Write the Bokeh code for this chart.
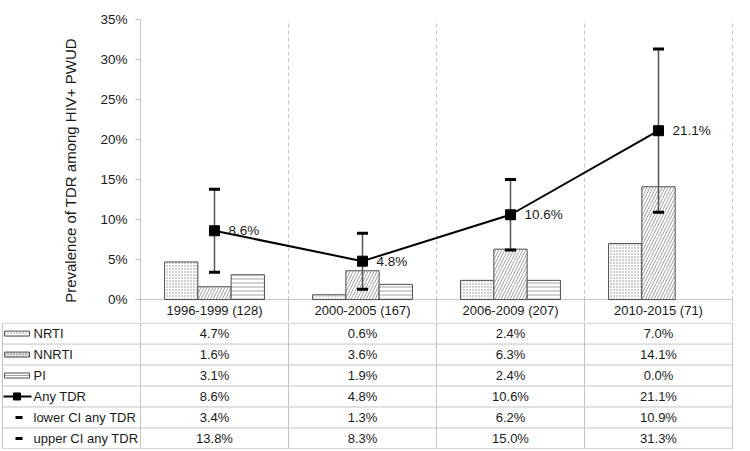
import numpy as np
from bokeh.plotting import figure
from bokeh.models import Range1d, FixedTicker, PrintfTickFormatter
from bokeh.core.properties import value
from bokeh.embed import file_html
from bokeh.resources import INLINE

# ---------------- data ----------------
categories = ["1996-1999 (128)", "2000-2005 (167)", "2006-2009 (207)", "2010-2015 (71)"]
nrti = [4.7, 0.6, 2.4, 7.0]
nnrti = [1.6, 3.6, 6.3, 14.1]
pi = [3.1, 1.9, 2.4, 0.0]
any_tdr = [8.6, 4.8, 10.6, 21.1]
lower_ci = [3.4, 1.3, 6.2, 10.9]
upper_ci = [13.8, 8.3, 15.0, 31.3]
row_names = ["NRTI", "NNRTI", "PI", "Any TDR", "lower CI any TDR", "upper CI any TDR"]
y_ticks = [0, 5, 10, 15, 20, 25, 30, 35]
y_max = 35

FONT = "Liberation Sans"
TXT = "#1a1a1a"
GRID = "#c4c4c4"
OUTL = "#505050"
HATCH = "#8c8c8c"

n = len(categories)
xc = np.arange(n) + 0.5
unit = 1.0 / 148.0           # one pixel in category units
bw = 0.225
x_end = n + 2 * unit
W = 745
LEFT = 140
RIGHT = W - LEFT - 594

# vertical scale: 281 px for 0..35 %, header row of 22 px below the zero line
ppu = 281.0 / y_max
hdr = 22.0 / ppu
y_min = -hdr

# ---------------- chart + header row ----------------
p = figure(width=W, height=322, x_range=Range1d(0, x_end), y_range=Range1d(y_min, y_max),
           output_backend="svg", toolbar_location=None,
           min_border_left=LEFT, min_border_right=RIGHT, min_border_top=19, min_border_bottom=1)
p.outline_line_color = None
p.xaxis.visible = False
p.ygrid.visible = False
p.xgrid.ticker = FixedTicker(ticks=list(range(1, n + 1)))
p.xgrid.bounds = (0, y_max)
p.xgrid.grid_line_color = GRID
p.xgrid.grid_line_dash = "4 3"
p.xgrid.grid_line_width = 1

ya = p.yaxis[0]
ya.ticker = FixedTicker(ticks=y_ticks)
ya.formatter = PrintfTickFormatter(format="%d%%")
ya.axis_label = "Prevalence of TDR among HIV+ PWUD"
ya.axis_label_text_font = FONT
ya.axis_label_text_font_style = "normal"
ya.axis_label_text_font_size = "15px"
ya.axis_label_text_color = TXT
ya.axis_label_standoff = 18
ya.major_label_text_font = FONT
ya.major_label_text_font_size = "13.5px"
ya.major_label_text_color = TXT
ya.major_label_standoff = 8
ya.axis_line_color = GRID
ya.major_tick_line_color = GRID
ya.major_tick_out = 5
ya.major_tick_in = 0
ya.minor_tick_line_color = None

# zero line and header row rules
p.segment(x0=[0], y0=[0], x1=[n], y1=[0], line_color=GRID, line_width=1)
p.segment(x0=list(range(n + 1)), y0=[y_min] * (n + 1), x1=list(range(n + 1)), y1=[0] * (n + 1),
          line_color=GRID, line_width=1)
p.text(x=xc, y=[-hdr / 2] * n, text=categories, text_align="center", text_baseline="middle",
       text_font=value(FONT), text_font_size="13px", text_color=TXT)

bar_specs = [(nrti, -bw, ".", 3), (nnrti, 0.0, "/", 6), (pi, bw, "-", 4)]
for vals, off, hp, hs in bar_specs:
    p.vbar(x=xc + off, top=vals, bottom=0, width=bw, fill_color="white",
           line_color=OUTL, line_width=1, line_alpha=[0.0 if v == 0 else 1.0 for v in vals],
           hatch_pattern=hp, hatch_color=HATCH, hatch_scale=hs, hatch_weight=0.8)

p.segment(x0=xc, y0=lower_ci, x1=xc, y1=upper_ci, line_color="#555555", line_width=1.5)
p.scatter(x=xc, y=lower_ci, marker="dash", size=11, line_width=3, line_color="black")
p.scatter(x=xc, y=upper_ci, marker="dash", size=11, line_width=3, line_color="black")
p.line(x=xc, y=any_tdr, line_color="black", line_width=2)
p.scatter(x=xc, y=any_tdr, marker="square", size=10, fill_color="black", line_color="black")
p.text(x=xc, y=any_tdr, text=[f"{v:.1f}%" for v in any_tdr], x_offset=14,
       text_baseline="middle", text_align="left", text_font=value(FONT),
       text_font_size="13.5px", text_color=TXT)

# ---------------- data table body ----------------
x_start = -LEFT * unit
nrows = 6
e = 0.03
t = figure(width=W, height=127, x_range=Range1d(x_start, x_end), y_range=Range1d(nrows + e, -e),
           output_backend="svg", toolbar_location=None, x_axis_type=None, y_axis_type=None,
           min_border_left=0, min_border_right=RIGHT, min_border_top=0, min_border_bottom=0)
t.outline_line_color = None
t.grid.visible = False

left = x_start + 2 * unit
# horizontal rules
t.segment(x0=[left] * (nrows + 1), y0=list(range(0, nrows + 1)), x1=[n] * (nrows + 1),
          y1=list(range(0, nrows + 1)), line_color=GRID, line_width=1)
# vertical rules
t.segment(x0=[left] + list(range(n + 1)), y0=[0] * (n + 2),
          x1=[left] + list(range(n + 1)), y1=[nrows] * (n + 2),
          line_color=GRID, line_width=1)

# values
series = [nrti, nnrti, pi, any_tdr, lower_ci, upper_ci]
for r, vals in enumerate(series):
    t.text(x=xc, y=[r + 0.5] * n, text=[f"{v:.1f}%" for v in vals], text_align="center",
           text_baseline="middle", text_font=value(FONT), text_font_size="13px", text_color=TXT)

# row labels
label_x = [x_start + 33 * unit] * len(row_names)
t.text(x=label_x, y=[r + 0.5 for r in range(len(row_names))], text=row_names,
       text_align="left", text_baseline="middle", text_font=value(FONT),
       text_font_size="13px", text_color=TXT)

# legend keys
key_cx = x_start + 16.5 * unit
for r, (_, _, hp, hs) in enumerate(bar_specs):
    t.rect(x=[key_cx], y=[r + 0.5], width=25, height=5, width_units="screen", height_units="screen",
           fill_color="white", line_color=OUTL, line_width=1, hatch_pattern=hp,
           hatch_color=HATCH, hatch_scale=3, hatch_weight=0.8)
t.segment(x0=[x_start + 3 * unit], y0=[3.5], x1=[x_start + 31 * unit], y1=[3.5],
          line_color="black", line_width=2)
t.scatter(x=[x_start + 16.5 * unit], y=[3.5], marker="square", size=7, fill_color="black",
          line_color="black")
t.scatter(x=[x_start + 18.5 * unit] * 2, y=[4.5, 5.5], marker="dash", size=7, line_width=3,
          line_color="black")

open("out.html", "w").write(file_html([p, t], INLINE))
